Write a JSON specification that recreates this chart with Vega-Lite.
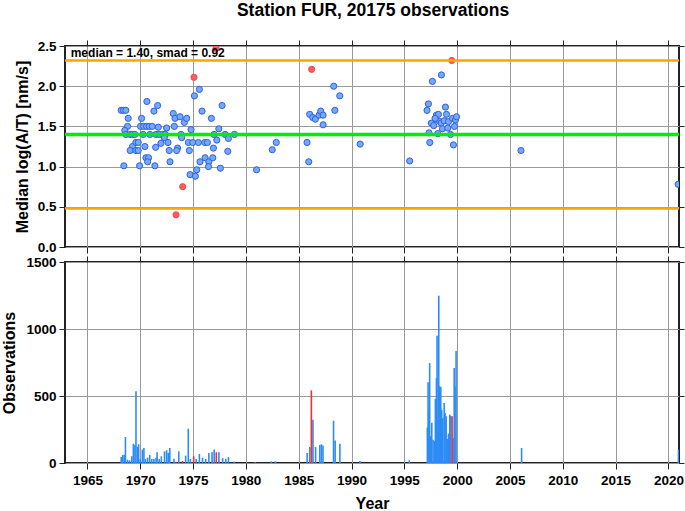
{
  "$schema": "https://vega.github.io/schema/vega-lite/v6.json",
  "background": "white",
  "padding": {"left": 0, "top": 2, "right": 0, "bottom": 0},
  "title": {"text": "Station FUR, 20175 observations", "font": "Liberation Sans", "fontSize": 17.5, "fontWeight": "bold", "color": "black", "anchor": "middle", "offset": 18.5, "dx": 30},
  "config": {
    "font": "Liberation Sans",
    "view": {"stroke": "#222", "strokeWidth": 2},
    "axis": {
      "labelFont": "Liberation Sans", "labelFontSize": 13.5, "labelFontWeight": "bold", "labelColor": "black",
      "titleFont": "Liberation Sans", "titleFontSize": 16, "titleFontWeight": "bold", "titleColor": "black",
      "gridColor": "#999", "gridWidth": 1, "gridOpacity": 1, "domain": false,
      "tickColor": "#222", "tickSize": 6, "tickWidth": 1, "labelPadding": 3
    }
  },
  "datasets": {
    "refs": [
      {"value": 1.40, "kind": "median"},
      {"value": 2.32, "kind": "bound"},
      {"value": 0.48, "kind": "bound"}
    ],
    "label": [
      {"year": 1963.42, "value": 2.363, "text": "median = 1.40, smad = 0.92"}
    ],
    "points": [
      {"year": 1968.20, "value": 1.70, "flag": "normal"},
      {"year": 1968.42, "value": 1.70, "flag": "normal"},
      {"year": 1968.64, "value": 1.70, "flag": "normal"},
      {"year": 1968.86, "value": 1.60, "flag": "normal"},
      {"year": 1968.80, "value": 1.50, "flag": "normal"},
      {"year": 1968.54, "value": 1.45, "flag": "normal"},
      {"year": 1968.64, "value": 1.40, "flag": "normal"},
      {"year": 1969.05, "value": 1.40, "flag": "normal"},
      {"year": 1969.27, "value": 1.40, "flag": "normal"},
      {"year": 1969.49, "value": 1.40, "flag": "normal"},
      {"year": 1969.27, "value": 1.25, "flag": "normal"},
      {"year": 1969.05, "value": 1.20, "flag": "normal"},
      {"year": 1969.59, "value": 1.30, "flag": "normal"},
      {"year": 1969.81, "value": 1.30, "flag": "normal"},
      {"year": 1969.59, "value": 1.20, "flag": "normal"},
      {"year": 1969.81, "value": 1.20, "flag": "normal"},
      {"year": 1968.45, "value": 1.01, "flag": "normal"},
      {"year": 1969.94, "value": 1.01, "flag": "normal"},
      {"year": 1970.13, "value": 1.60, "flag": "normal"},
      {"year": 1970.03, "value": 1.50, "flag": "normal"},
      {"year": 1970.32, "value": 1.50, "flag": "normal"},
      {"year": 1970.60, "value": 1.50, "flag": "normal"},
      {"year": 1970.85, "value": 1.50, "flag": "normal"},
      {"year": 1971.14, "value": 1.50, "flag": "normal"},
      {"year": 1970.63, "value": 1.81, "flag": "normal"},
      {"year": 1971.65, "value": 1.76, "flag": "normal"},
      {"year": 1971.30, "value": 1.69, "flag": "normal"},
      {"year": 1970.28, "value": 1.40, "flag": "normal"},
      {"year": 1970.92, "value": 1.40, "flag": "normal"},
      {"year": 1971.49, "value": 1.40, "flag": "normal"},
      {"year": 1971.80, "value": 1.40, "flag": "normal"},
      {"year": 1972.12, "value": 1.40, "flag": "normal"},
      {"year": 1972.37, "value": 1.40, "flag": "normal"},
      {"year": 1971.71, "value": 1.49, "flag": "normal"},
      {"year": 1970.44, "value": 1.25, "flag": "normal"},
      {"year": 1971.46, "value": 1.24, "flag": "normal"},
      {"year": 1970.54, "value": 1.11, "flag": "normal"},
      {"year": 1970.79, "value": 1.11, "flag": "normal"},
      {"year": 1970.70, "value": 1.06, "flag": "normal"},
      {"year": 1971.39, "value": 1.01, "flag": "normal"},
      {"year": 1971.96, "value": 1.29, "flag": "normal"},
      {"year": 1972.28, "value": 1.36, "flag": "normal"},
      {"year": 1972.50, "value": 1.48, "flag": "normal"},
      {"year": 1972.63, "value": 1.30, "flag": "normal"},
      {"year": 1972.75, "value": 1.20, "flag": "normal"},
      {"year": 1972.82, "value": 1.06, "flag": "normal"},
      {"year": 1973.13, "value": 1.66, "flag": "normal"},
      {"year": 1973.29, "value": 1.60, "flag": "normal"},
      {"year": 1973.23, "value": 1.50, "flag": "normal"},
      {"year": 1973.77, "value": 1.62, "flag": "normal"},
      {"year": 1974.18, "value": 1.55, "flag": "normal"},
      {"year": 1974.40, "value": 1.60, "flag": "normal"},
      {"year": 1973.54, "value": 1.23, "flag": "normal"},
      {"year": 1973.45, "value": 1.20, "flag": "normal"},
      {"year": 1973.86, "value": 1.40, "flag": "normal"},
      {"year": 1973.92, "value": 1.36, "flag": "normal"},
      {"year": 1974.56, "value": 1.30, "flag": "normal"},
      {"year": 1974.65, "value": 1.20, "flag": "normal"},
      {"year": 1974.81, "value": 1.46, "flag": "normal"},
      {"year": 1974.97, "value": 1.30, "flag": "normal"},
      {"year": 1975.51, "value": 1.30, "flag": "normal"},
      {"year": 1974.72, "value": 0.90, "flag": "normal"},
      {"year": 1975.13, "value": 1.88, "flag": "normal"},
      {"year": 1975.60, "value": 1.96, "flag": "normal"},
      {"year": 1975.22, "value": 0.88, "flag": "normal"},
      {"year": 1975.35, "value": 0.96, "flag": "normal"},
      {"year": 1975.66, "value": 1.06, "flag": "normal"},
      {"year": 1975.85, "value": 1.69, "flag": "normal"},
      {"year": 1976.14, "value": 1.11, "flag": "normal"},
      {"year": 1976.49, "value": 1.06, "flag": "normal"},
      {"year": 1976.46, "value": 1.00, "flag": "normal"},
      {"year": 1976.11, "value": 1.30, "flag": "normal"},
      {"year": 1976.36, "value": 1.30, "flag": "normal"},
      {"year": 1976.74, "value": 1.60, "flag": "normal"},
      {"year": 1976.87, "value": 1.11, "flag": "normal"},
      {"year": 1976.93, "value": 1.23, "flag": "normal"},
      {"year": 1976.99, "value": 1.40, "flag": "normal"},
      {"year": 1977.25, "value": 1.33, "flag": "normal"},
      {"year": 1977.44, "value": 1.47, "flag": "normal"},
      {"year": 1977.59, "value": 0.98, "flag": "normal"},
      {"year": 1977.75, "value": 1.76, "flag": "normal"},
      {"year": 1978.04, "value": 1.40, "flag": "normal"},
      {"year": 1978.29, "value": 1.19, "flag": "normal"},
      {"year": 1978.35, "value": 1.35, "flag": "normal"},
      {"year": 1978.92, "value": 1.40, "flag": "normal"},
      {"year": 1981.01, "value": 0.96, "flag": "normal"},
      {"year": 1982.50, "value": 1.21, "flag": "normal"},
      {"year": 1982.88, "value": 1.30, "flag": "normal"},
      {"year": 1985.79, "value": 1.30, "flag": "normal"},
      {"year": 1985.95, "value": 1.06, "flag": "normal"},
      {"year": 1986.04, "value": 1.65, "flag": "normal"},
      {"year": 1986.33, "value": 1.61, "flag": "normal"},
      {"year": 1986.58, "value": 1.59, "flag": "normal"},
      {"year": 1986.93, "value": 1.64, "flag": "normal"},
      {"year": 1987.09, "value": 1.69, "flag": "normal"},
      {"year": 1987.31, "value": 1.64, "flag": "normal"},
      {"year": 1987.31, "value": 1.52, "flag": "normal"},
      {"year": 1988.32, "value": 2.00, "flag": "normal"},
      {"year": 1988.89, "value": 1.88, "flag": "normal"},
      {"year": 1988.42, "value": 1.70, "flag": "normal"},
      {"year": 1990.82, "value": 1.28, "flag": "normal"},
      {"year": 1995.51, "value": 1.07, "flag": "normal"},
      {"year": 1997.28, "value": 1.78, "flag": "normal"},
      {"year": 1997.15, "value": 1.70, "flag": "normal"},
      {"year": 1997.66, "value": 2.06, "flag": "normal"},
      {"year": 1998.51, "value": 2.14, "flag": "normal"},
      {"year": 1997.34, "value": 1.42, "flag": "normal"},
      {"year": 1997.41, "value": 1.30, "flag": "normal"},
      {"year": 1997.56, "value": 1.54, "flag": "normal"},
      {"year": 1997.78, "value": 1.51, "flag": "normal"},
      {"year": 1997.97, "value": 1.59, "flag": "normal"},
      {"year": 1998.04, "value": 1.64, "flag": "normal"},
      {"year": 1998.23, "value": 1.65, "flag": "normal"},
      {"year": 1998.35, "value": 1.56, "flag": "normal"},
      {"year": 1998.48, "value": 1.54, "flag": "normal"},
      {"year": 1998.61, "value": 1.47, "flag": "normal"},
      {"year": 1998.77, "value": 1.57, "flag": "normal"},
      {"year": 1998.89, "value": 1.74, "flag": "normal"},
      {"year": 1998.99, "value": 1.65, "flag": "normal"},
      {"year": 1999.11, "value": 1.48, "flag": "normal"},
      {"year": 1999.18, "value": 1.56, "flag": "normal"},
      {"year": 1999.37, "value": 1.40, "flag": "normal"},
      {"year": 1999.56, "value": 1.60, "flag": "normal"},
      {"year": 1999.65, "value": 1.27, "flag": "normal"},
      {"year": 1999.75, "value": 1.50, "flag": "normal"},
      {"year": 1999.84, "value": 1.58, "flag": "normal"},
      {"year": 1999.94, "value": 1.62, "flag": "normal"},
      {"year": 1998.16, "value": 1.41, "flag": "normal"},
      {"year": 1997.91, "value": 1.60, "flag": "normal"},
      {"year": 2006.04, "value": 1.20, "flag": "normal"},
      {"year": 2020.92, "value": 0.78, "flag": "normal"},
      {"year": 1975.09, "value": 2.11, "flag": "outlier"},
      {"year": 1974.02, "value": 0.75, "flag": "outlier"},
      {"year": 1973.39, "value": 0.40, "flag": "outlier"},
      {"year": 1977.18, "value": 2.47, "flag": "outlier"},
      {"year": 1986.23, "value": 2.21, "flag": "outlier"},
      {"year": 1999.49, "value": 2.32, "flag": "outlier"}
    ],
    "bars": [
      {"year": 1968.20, "count": 45, "flag": "normal"},
      {"year": 1968.35, "count": 60, "flag": "normal"},
      {"year": 1968.50, "count": 62, "flag": "normal"},
      {"year": 1968.60, "count": 194, "flag": "normal"},
      {"year": 1968.80, "count": 25, "flag": "normal"},
      {"year": 1969.00, "count": 20, "flag": "normal"},
      {"year": 1969.20, "count": 50, "flag": "normal"},
      {"year": 1969.35, "count": 144, "flag": "normal"},
      {"year": 1969.50, "count": 135, "flag": "normal"},
      {"year": 1969.60, "count": 535, "flag": "normal"},
      {"year": 1969.75, "count": 120, "flag": "normal"},
      {"year": 1969.85, "count": 140, "flag": "normal"},
      {"year": 1970.00, "count": 30, "flag": "normal"},
      {"year": 1970.20, "count": 100, "flag": "normal"},
      {"year": 1970.35, "count": 112, "flag": "normal"},
      {"year": 1970.50, "count": 30, "flag": "normal"},
      {"year": 1970.70, "count": 40, "flag": "normal"},
      {"year": 1970.90, "count": 60, "flag": "normal"},
      {"year": 1971.10, "count": 30, "flag": "normal"},
      {"year": 1971.30, "count": 30, "flag": "normal"},
      {"year": 1971.50, "count": 40, "flag": "normal"},
      {"year": 1971.60, "count": 80, "flag": "normal"},
      {"year": 1971.80, "count": 30, "flag": "normal"},
      {"year": 1972.00, "count": 50, "flag": "normal"},
      {"year": 1972.30, "count": 87, "flag": "normal"},
      {"year": 1972.50, "count": 95, "flag": "normal"},
      {"year": 1972.65, "count": 75, "flag": "normal"},
      {"year": 1972.80, "count": 112, "flag": "normal"},
      {"year": 1973.20, "count": 32, "flag": "normal"},
      {"year": 1973.65, "count": 87, "flag": "normal"},
      {"year": 1974.30, "count": 55, "flag": "normal"},
      {"year": 1974.55, "count": 256, "flag": "normal"},
      {"year": 1974.75, "count": 30, "flag": "normal"},
      {"year": 1975.30, "count": 30, "flag": "normal"},
      {"year": 1975.60, "count": 67, "flag": "normal"},
      {"year": 1975.90, "count": 40, "flag": "normal"},
      {"year": 1976.20, "count": 30, "flag": "normal"},
      {"year": 1976.50, "count": 75, "flag": "normal"},
      {"year": 1976.80, "count": 80, "flag": "normal"},
      {"year": 1977.00, "count": 100, "flag": "normal"},
      {"year": 1977.45, "count": 80, "flag": "normal"},
      {"year": 1977.80, "count": 37, "flag": "normal"},
      {"year": 1978.10, "count": 32, "flag": "normal"},
      {"year": 1978.35, "count": 45, "flag": "normal"},
      {"year": 1978.90, "count": 10, "flag": "normal"},
      {"year": 1980.90, "count": 5, "flag": "normal"},
      {"year": 1982.40, "count": 12, "flag": "normal"},
      {"year": 1982.80, "count": 12, "flag": "normal"},
      {"year": 1985.80, "count": 75, "flag": "normal"},
      {"year": 1986.05, "count": 120, "flag": "normal"},
      {"year": 1986.35, "count": 323, "flag": "normal"},
      {"year": 1986.60, "count": 120, "flag": "normal"},
      {"year": 1987.00, "count": 135, "flag": "normal"},
      {"year": 1987.15, "count": 140, "flag": "normal"},
      {"year": 1987.30, "count": 130, "flag": "normal"},
      {"year": 1988.30, "count": 316, "flag": "normal"},
      {"year": 1988.45, "count": 167, "flag": "normal"},
      {"year": 1988.90, "count": 144, "flag": "normal"},
      {"year": 1990.80, "count": 15, "flag": "normal"},
      {"year": 1995.47, "count": 20, "flag": "normal"},
      {"year": 1997.18, "count": 264, "flag": "normal"},
      {"year": 1997.25, "count": 602, "flag": "normal"},
      {"year": 1997.34, "count": 386, "flag": "normal"},
      {"year": 1997.40, "count": 746, "flag": "normal"},
      {"year": 1997.50, "count": 200, "flag": "normal"},
      {"year": 1997.60, "count": 300, "flag": "normal"},
      {"year": 1997.72, "count": 174, "flag": "normal"},
      {"year": 1997.85, "count": 165, "flag": "normal"},
      {"year": 1997.94, "count": 478, "flag": "normal"},
      {"year": 1998.04, "count": 634, "flag": "normal"},
      {"year": 1998.10, "count": 950, "flag": "normal"},
      {"year": 1998.20, "count": 323, "flag": "normal"},
      {"year": 1998.26, "count": 1249, "flag": "normal"},
      {"year": 1998.35, "count": 572, "flag": "normal"},
      {"year": 1998.45, "count": 567, "flag": "normal"},
      {"year": 1998.54, "count": 398, "flag": "normal"},
      {"year": 1998.64, "count": 335, "flag": "normal"},
      {"year": 1998.77, "count": 448, "flag": "normal"},
      {"year": 1998.86, "count": 373, "flag": "normal"},
      {"year": 1998.96, "count": 348, "flag": "normal"},
      {"year": 1999.08, "count": 179, "flag": "normal"},
      {"year": 1999.18, "count": 219, "flag": "normal"},
      {"year": 1999.30, "count": 361, "flag": "normal"},
      {"year": 1999.40, "count": 350, "flag": "normal"},
      {"year": 1999.62, "count": 187, "flag": "normal"},
      {"year": 1999.72, "count": 709, "flag": "normal"},
      {"year": 1999.80, "count": 572, "flag": "normal"},
      {"year": 1999.90, "count": 836, "flag": "normal"},
      {"year": 2006.10, "count": 112, "flag": "normal"},
      {"year": 2020.95, "count": 100, "flag": "normal"},
      {"year": 1973.40, "count": 10, "flag": "outlier"},
      {"year": 1974.00, "count": 15, "flag": "outlier"},
      {"year": 1975.06, "count": 50, "flag": "outlier"},
      {"year": 1977.20, "count": 80, "flag": "outlier"},
      {"year": 1986.20, "count": 542, "flag": "outlier"},
      {"year": 1999.52, "count": 348, "flag": "outlier"}
    ]
  },
  "vconcat": [
    {
      "width": 614,
      "height": 201,
      "layer": [
        {
          "data": {"name": "points"},
          "mark": {"type": "point", "filled": true, "size": 38, "strokeWidth": 1, "opacity": 1, "clip": true},
          "encoding": {
            "x": {"field": "year", "type": "quantitative", "scale": {"domain": [1962.88, 2021.0], "nice": false, "zero": false, "padding": 0},
                  "axis": {"orient": "bottom", "values": [1965, 1970, 1975, 1980, 1985, 1990, 1995, 2000, 2005, 2010, 2015, 2020], "labels": false, "title": null, "grid": true}},
            "y": {"field": "value", "type": "quantitative", "scale": {"domain": [0, 2.5], "nice": false, "zero": false, "padding": 0},
                  "axis": {"orient": "left", "values": [0, 0.5, 1, 1.5, 2, 2.5], "format": ".1f", "title": "Median log(A/T) [nm/s]", "titlePadding": 6.5, "grid": true}},
            "fill": {"field": "flag", "type": "nominal", "scale": {"domain": ["normal", "outlier"], "range": ["#74a9f5", "#ff5c5c"]}, "legend": null},
            "stroke": {"field": "flag", "type": "nominal", "scale": {"domain": ["normal", "outlier"], "range": ["#2f5fe6", "#f04848"]}, "legend": null}
          }
        },
        {
          "data": {"name": "label"},
          "mark": {"type": "text", "align": "left", "baseline": "alphabetic", "fontSize": 12, "fontWeight": "bold", "font": "Liberation Sans", "color": "black"},
          "encoding": {
            "x": {"field": "year", "type": "quantitative",
                  "axis": {"orient": "top", "values": [1965, 1970, 1975, 1980, 1985, 1990, 1995, 2000, 2005, 2010, 2015, 2020], "labels": false, "title": null, "grid": false}},
            "y": {"field": "value", "type": "quantitative",
                  "axis": {"orient": "right", "values": [0, 0.5, 1, 1.5, 2, 2.5], "labels": false, "title": null, "grid": false, "tickSize": 5}},
            "text": {"field": "text"}
          }
        },
        {
          "data": {"name": "refs"},
          "transform": [{"filter": "datum.kind == 'median'"}],
          "mark": {"type": "rule", "color": "#00ee00", "strokeWidth": 3.5},
          "encoding": {
            "y": {"field": "value", "type": "quantitative", "axis": null}
          }
        },
        {
          "data": {"name": "refs"},
          "transform": [{"filter": "datum.kind == 'bound'"}],
          "mark": {"type": "rule", "color": "#ffa500", "strokeWidth": 2.5},
          "encoding": {
            "y": {"field": "value", "type": "quantitative", "axis": null}
          }
        }
      ],
      "resolve": {"axis": {"x": "independent", "y": "independent"}}
    },
    {
      "width": 614,
      "height": 201,
      "layer": [
        {
          "data": {"name": "bars"},
          "mark": {"type": "bar", "size": 1.6, "clip": true},
          "encoding": {
            "x": {"field": "year", "type": "quantitative", "scale": {"domain": [1962.88, 2021.0], "nice": false, "zero": false, "padding": 0},
                  "axis": {"orient": "bottom", "values": [1965, 1970, 1975, 1980, 1985, 1990, 1995, 2000, 2005, 2010, 2015, 2020], "format": "d", "title": "Year", "titlePadding": 9, "labelPadding": 4, "grid": true}},
            "y": {"field": "count", "type": "quantitative", "stack": null, "scale": {"domain": [0, 1500], "nice": false, "padding": 0},
                  "axis": {"orient": "left", "values": [0, 500, 1000, 1500], "format": "d", "title": "Observations", "titlePadding": 8.3, "grid": true}},
            "color": {"field": "flag", "type": "nominal", "scale": {"domain": ["normal", "outlier"], "range": ["#2b8cf5", "#ff2a2a"]}, "legend": null}
          }
        },
        {
          "data": {"name": "bars"},
          "mark": {"type": "bar", "size": 1.6, "opacity": 0},
          "encoding": {
            "x": {"field": "year", "type": "quantitative",
                  "axis": {"orient": "top", "values": [1965, 1970, 1975, 1980, 1985, 1990, 1995, 2000, 2005, 2010, 2015, 2020], "labels": false, "title": null, "grid": false}},
            "y": {"field": "count", "type": "quantitative", "stack": null,
                  "axis": {"orient": "right", "values": [0, 500, 1000, 1500], "labels": false, "title": null, "grid": false, "tickSize": 5}}
          }
        }
      ],
      "resolve": {"axis": {"x": "independent", "y": "independent"}}
    }
  ],
  "spacing": 15,
  "bounds": "flush"
}
